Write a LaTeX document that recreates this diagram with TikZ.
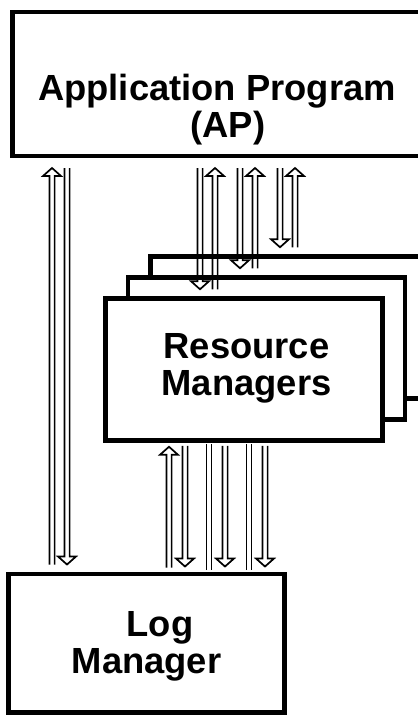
\documentclass[tikz,border=0pt]{standalone}
\usepackage{fontspec}
\setmainfont{Liberation Sans}
\usetikzlibrary{calc}

\begin{document}
\begin{tikzpicture}[x=1bp, y=-1bp,
  box/.style={draw, line width=4.5bp, fill=white, inner sep=0pt},
  boxText/.style={font=\fontsize{36.5}{37}\selectfont\bfseries, align=center, inner sep=0pt},
  arrUp/.style={line width=1.7bp, to path={let \p1=(\tikztostart), \p2=(\tikztotarget) in
    (\x1-2.6bp,\y1) -- (\x1-2.6bp,\y2-8bp) -- (\x1-9bp,\y2-8bp) -- (\x1,\y2)
    -- (\x1+9bp,\y2-8bp) -- (\x1+2.6bp,\y2-8bp) -- (\x1+2.6bp,\y1)}},
  arrDown/.style={line width=1.7bp, to path={let \p1=(\tikztostart), \p2=(\tikztotarget) in
    (\x1-2.6bp,\y1) -- (\x1-2.6bp,\y2+8bp) -- (\x1-9bp,\y2+8bp) -- (\x1,\y2)
    -- (\x1+9bp,\y2+8bp) -- (\x1+2.6bp,\y2+8bp) -- (\x1+2.6bp,\y1)}},
  twin/.style={line width=1.7bp, to path={let \p1=(\tikztostart), \p2=(\tikztotarget) in
    (\x1-2.6bp,\y1) -- (\x1-2.6bp,\y2) (\x1+2.6bp,\y1) -- (\x1+2.6bp,\y2)}}]

\useasboundingbox (0,0) rectangle (417,715);

% Boxes
\node[box, minimum width=409bp, minimum height=143.5bp] (ap) at (217,84) {};
\node[box, minimum width=277bp, minimum height=142bp] (rmback) at (289,327.5) {};
\node[box, minimum width=277bp, minimum height=142bp] (rmmid) at (266.5,348.5) {};
\node[box, minimum width=277bp, minimum height=142bp] (rm) at (244,369.5) {};
\node[box, minimum width=276bp, minimum height=138.5bp] (log) at (146.5,643) {};

% Labels
\node[boxText] (apText) at (217,109.5) {Application Program\\\hspace*{22bp}(AP)};
\node[boxText] (rmText) at (246.5,368.5) {Resource\\Managers};
\node[boxText] (logText) at (146.5,646.5) {\hspace*{27bp}Log\\Manager};

% AP <-> Log Manager
\draw[arrUp] ($(log.north -| 52,0)+(0,-7)$) to ($(ap.south -| 52,0)+(0,10)$);
\draw[arrDown] ($(ap.south -| 67,0)+(0,10)$) to ($(log.north -| 67,0)+(0,-7)$);

% AP <-> Resource Managers
\foreach \cx/\cu/\rmb in {200/215/rm, 240/255/rmmid, 280/295/rmback} {
  \draw[arrDown] ($(ap.south -| \cx,0)+(0,10)$) to ($(\rmb.north -| \cx,0)+(0,-7)$);
  \draw[arrUp] ($(\rmb.north -| \cu,0)+(0,-7)$) to ($(ap.south -| \cu,0)+(0,10)$);
}

% Resource Managers <-> Log Manager
\draw[arrUp] ($(log.north -| 169,0)+(0,-4)$) to ($(rm.south -| 169,0)+(0,4)$);
\foreach \cx in {209, 249}
  \draw[twin] ($(rm.south -| \cx,0)+(0,1)$) to ($(log.north -| \cx,0)+(0,-2)$);
\foreach \cx in {185, 225, 265}
  \draw[arrDown] ($(rm.south -| \cx,0)+(0,3)$) to ($(log.north -| \cx,0)+(0,-5)$);

\end{tikzpicture}
\end{document}
